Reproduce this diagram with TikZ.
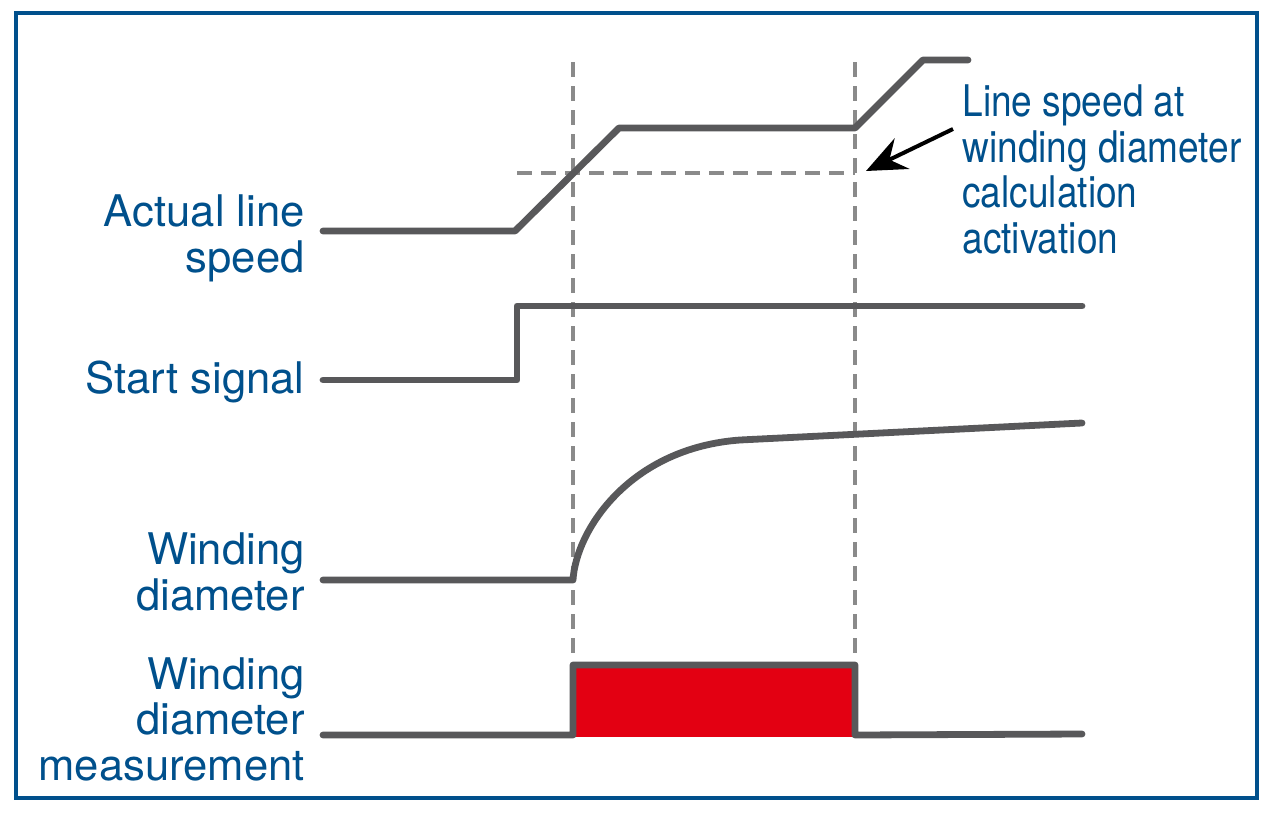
\documentclass[tikz,border=0pt]{standalone}
\usepackage{fontspec}
\setmainfont{TeX Gyre Heros}
\newfontfamily\narrowheros[FakeStretch=0.85]{TeX Gyre Heros}
\usetikzlibrary{positioning, arrows.meta, calc}
\definecolor{frameblue}{RGB}{0,80,140}
\definecolor{signalgray}{RGB}{88,88,90}
\definecolor{guidegray}{RGB}{138,138,138}
\definecolor{measred}{RGB}{227,0,18}
\tikzstyle{signal} = [line width=3.4pt, draw=signalgray, line cap=round, line join=round]
\tikzstyle{guide} = [line width=1.9pt, draw=guidegray, dash pattern=on 7.5pt off 4.5pt]
\tikzstyle{signame} = [font=\fontsize{21.8}{22.75}\selectfont, text=frameblue, inner sep=0pt]
\tikzstyle{arrow} = [line width=2pt, -{Stealth[length=20pt, width=17pt, inset=7pt]}]

\begin{document}
\begin{tikzpicture}[x=0.5pt, y=-0.5pt]
        \useasboundingbox (0,0) rectangle (1280,825);
        \draw [frameblue, line width=2pt] (16,13) rectangle (1257,798);

        % signal names (base = last line)
        \node (speedname) [signame, align=right, anchor=base east] at (305,272) {Actual line\\speed};
        \node (startname) [signame, anchor=base east] at (305,393) {Start signal};
        \node (diamname) [signame, align=right, anchor=base east] at (305,610) {Winding\\diameter};
        \node (measname) [signame, align=right, anchor=base east] at (305,780) {Winding\\diameter\\measurement};
        \node (activname) [signame, font=\narrowheros\fontsize{21.8}{22.75}\selectfont, align=left, anchor=base west] at (962,253) {Line speed at\\winding diameter\\calculation\\activation};

        % time marks
        \coordinate (starttop) at (573,62);
        \coordinate (startbot) at (573,658);
        \coordinate (stoptop) at (855,62);
        \coordinate (stopbot) at (855,658);
        \coordinate (levelleft) at (517,173);
        \coordinate (levelright) at (855,173);
        \coordinate (arrowtail) at (953,129);
        \coordinate (arrowhead) at (866,171);

        % measurement window
        \fill [measred] (573,665) rectangle (855,737);

        \draw [guide] (starttop) -- (startbot);
        \draw [guide] (stoptop) -- (stopbot);
        \draw [guide] (levelleft) -- (levelright);

        % signals
        \draw [signal] (323,231) -- (515,231) -- (619,128) -- (855,128) -- (923,60) -- (968,60);
        \draw [signal] (323,380) -- (517,380) -- (517,306) -- (1082,306);
        \draw [signal] (323,580) -- (573,580) .. controls (576,530) and (630,448) .. (740,440) -- (1082,423);
        \draw [signal] (323,735) -- (573,735) -- (573,665) -- (855,665) -- (855,735) -- (1082,734);

        \draw [arrow] (arrowtail) -- (arrowhead);

        \end{tikzpicture}
\end{document}
